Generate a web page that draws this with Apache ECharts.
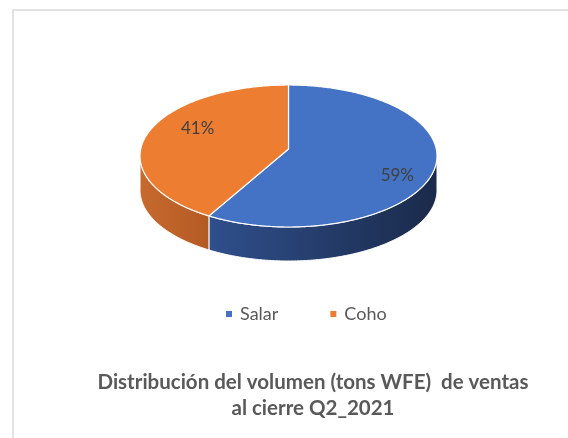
<!DOCTYPE html>
<html>
<head>
<meta charset="utf-8">
<script src="https://cdn.jsdelivr.net/npm/echarts@6/dist/echarts.min.js"></script>
<style>html,body{margin:0;padding:0;background:#fff}#c{width:568px;height:438px}</style>
</head>
<body>
<div id="c"></div>
<script>
const categories = ['Salar', 'Coho'];
const values = [59, 41];
const titleLines = ['Distribución del volumen (tons WFE)  de ventas', 'al cierre Q2_2021'];

const topColors = ['#4472C4', '#ED7D31'];
const sideColors = [['#2F4F8C', '#1A2A4A'], ['#C86A2F', '#B35A23']];

const chart = echarts.init(document.getElementById('c'));
const total = values.reduce((a, b) => a + b, 0);
const cum = [];
values.reduce((acc, v, i) => { cum[i] = acc; return acc + v; }, 0);

const G = { cx: 288.5, cy: 156, rx: 148.5, ry: 71, apexY: 149, depth: 34, labelCy: 152, labelFx: 0.7, labelFy: 1.18, labelDx: 9 };

function pt(t, dy) {
  return [G.cx + G.rx * Math.sin(t), G.cy - G.ry * Math.cos(t) + (dy || 0)];
}
function arc(a, b, dy) {
  const pts = [];
  const n = Math.max(2, Math.ceil((b - a) / 0.01));
  for (let i = 0; i <= n; i++) pts.push(pt(a + (b - a) * i / n, dy));
  return pts;
}

function renderItem(params, api) {
  const i = params.dataIndex;
  const v = api.value(0);
  const a = cum[i] / total * Math.PI * 2;
  const b = (cum[i] + v) / total * Math.PI * 2;
  const children = [];
  const lo = Math.max(a, Math.PI / 2), hi = Math.min(b, Math.PI * 3 / 2);
  if (lo < hi) {
    const up = arc(lo, hi, 0);
    const down = arc(lo, hi, G.depth).reverse();
    children.push({
      type: 'polygon',
      shape: { points: up.concat(down) },
      style: {
        fill: new echarts.graphic.LinearGradient(0, 0, 1, 0, [
          { offset: 0, color: sideColors[i][0] },
          { offset: 1, color: sideColors[i][1] }
        ]),
        stroke: '#ffffff', lineWidth: 1
      }
    });
  }
  const top = [[G.cx, G.apexY]].concat(arc(a, b, 0));
  children.push({
    type: 'polygon',
    shape: { points: top },
    style: { fill: topColors[i], stroke: '#ffffff', lineWidth: 1.2 }
  });
  const m = (a + b) / 2;
  const lx = G.cx + G.rx * G.labelFx * Math.sin(m) + G.labelDx;
  const ly = G.labelCy - G.ry * G.labelFy * Math.cos(m);
  children.push({
    type: 'text',
    style: {
      text: Math.round(v / total * 100) + '%',
      x: lx, y: ly,
      align: 'center', verticalAlign: 'middle',
      fontFamily: 'Lato', fontSize: 17, fill: '#404040'
    }
  });
  return { type: 'group', children };
}

chart.setOption({
  animation: false,
  color: topColors,
  graphic: [{
    type: 'rect', shape: { x: 13, y: 10, width: 700, height: 600 },
    style: { fill: 'none', stroke: '#D9D9D9', lineWidth: 1.5 }, silent: true, z: -10
  }],
  title: {
    text: titleLines.join('\n'),
    left: 308, top: 364, textAlign: 'center',
    textStyle: { fontFamily: 'Lato', fontWeight: 'bold', fontSize: 20.5, color: '#595959', lineHeight: 26 }
  },
  legend: {
    data: categories,
    left: 221, top: 300,
    icon: 'rect', itemWidth: 6, itemHeight: 6, itemGap: 52,
    textStyle: { fontFamily: 'Lato', fontSize: 18, color: '#595959', padding: [0, 0, 0, 3] }
  },
  series: [
    {
      type: 'custom', coordinateSystem: 'none', renderItem,
      data: values.map((v, i) => ({ name: categories[i], value: [v] }))
    },
    {
      type: 'pie', radius: [0, 0], center: [-100, -100], silent: true,
      label: { show: false }, labelLine: { show: false },
      data: values.map((v, i) => ({ name: categories[i], value: v }))
    }
  ]
});
</script>
</body>
</html>
